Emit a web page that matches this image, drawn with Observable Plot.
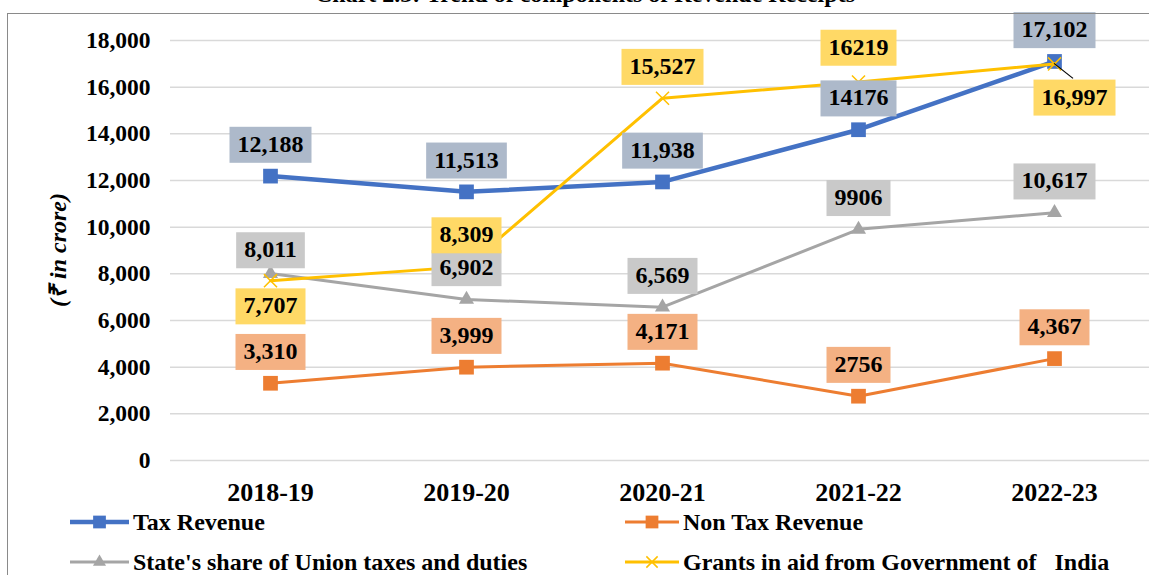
<!DOCTYPE html>
<html>
<head>
<meta charset="utf-8">
<script src="https://cdn.jsdelivr.net/npm/d3@7"></script>
<script src="https://cdn.jsdelivr.net/npm/@observablehq/plot@0.6"></script>
<style>
  html, body { margin: 0; padding: 0; background: #fff; overflow: hidden; }
  body { width: 1149px; height: 575px; position: relative; font-family: "Liberation Serif", "Times New Roman", serif; color: #000; }
  #title { position: absolute; left: 0; width: 1170px; top: -18px; text-align: center; font-size: 24px; line-height: 24px; font-weight: bold; white-space: nowrap; }
  #frame { position: absolute; left: 7px; top: 13px; width: 2000px; height: 2000px; border-left: 1.5px solid #8a8a8a; border-top: 1.5px solid #8a8a8a; pointer-events: none; }
  #wrap { position: absolute; left: 0; top: 0; }
  #ytitle { position: absolute; left: 56px; top: 250px; transform: translate(-50%, -50%) rotate(-90deg); font-size: 24px; font-weight: bold; font-style: italic; white-space: nowrap; }
  .leg { position: absolute; height: 24px; display: flex; align-items: center; font-size: 24px; font-weight: bold; white-space: pre; }
  .leg svg { display: block; }
</style>
</head>
<body>
<div id="wrap"></div>
<div id="title">Chart 2.3: Trend of components of Revenue Receipts</div>
<div id="ytitle">(₹ in crore)</div>
<div id="legend"></div>
<div id="frame"></div>
<script>
// ---------- data ----------
const years = ["2018-19", "2019-20", "2020-21", "2021-22", "2022-23"];
const seriesNames = [
  "Tax Revenue",
  "Non Tax Revenue",
  "State's share of Union taxes and duties",
  "Grants in aid from Government of   India"
];
const taxRevenue    = [12188, 11513, 11938, 14176, 17102];
const nonTaxRevenue = [3310, 3999, 4171, 2756, 4367];
const stateShare    = [8011, 6902, 6569, 9906, 10617];
const grantsInAid   = [7707, 8309, 15527, 16219, 16997];
const taxLabels     = ["12,188", "11,513", "11,938", "14176", "17,102"];
const nonTaxLabels  = ["3,310", "3,999", "4,171", "2756", "4,367"];
const stateLabels   = ["8,011", "6,902", "6,569", "9906", "10,617"];
const grantsLabels  = ["7,707", "8,309", "15,527", "16219", "16,997"];
const yTicks = [0, 2000, 4000, 6000, 8000, 10000, 12000, 14000, 16000, 18000];

// ---------- styling / layout ----------
const lineColors = ["#4472C4", "#ED7D31", "#A5A5A5", "#FFC000"];
const boxColors  = ["#ADB9CA", "#F4B183", "#C9C9C9", "#FFD966"];
const lineWidths = [4.5, 3, 3, 3];
const symbols    = ["square", "square", "triangle", "times"];
const symbolR    = [8.3, 8.3, 5.6, 6];
const defaultLabelOffset = {dx: 0, dy: -32};
// [seriesIndex, yearIndex, dx, dy, leader]
const labelOverrides = [
  [2, 0, 0, -24, false],
  [3, 0, 0, 25, false],
  [3, 3, 0, -35, false],
  [3, 4, 20, 33, true]
];

const values = [taxRevenue, nonTaxRevenue, stateShare, grantsInAid];
const labels = [taxLabels, nonTaxLabels, stateLabels, grantsLabels];

const rows = [];
seriesNames.forEach((s, i) => {
  years.forEach((yr, j) => {
    rows.push({si: i, series: s, year: yr, value: values[i][j], label: labels[i][j]});
  });
});

const font = '"Liberation Serif", "Times New Roman", serif';

const marks = [
  Plot.ruleY(yTicks, {stroke: "#d9d9d9", strokeWidth: 1.5}),
  Plot.axisY({ticks: yTicks, tickSize: 0, tickPadding: 20, tickFormat: d3.format(","), fontSize: 23.5, fontWeight: "bold", label: null}),
  Plot.axisX({tickSize: 0, tickPadding: 22, fontSize: 26, fontWeight: "bold", label: null})
];

seriesNames.forEach((s, i) => {
  const d = rows.filter(r => r.si === i);
  marks.push(Plot.line(d, {x: "year", y: "value", stroke: lineColors[i], strokeWidth: lineWidths[i], curve: "linear"}));
  if (symbols[i] === "times") {
    marks.push(Plot.dot(d, {x: "year", y: "value", symbol: symbols[i], r: symbolR[i], stroke: lineColors[i], strokeWidth: 1.5}));
  } else {
    marks.push(Plot.dot(d, {x: "year", y: "value", symbol: symbols[i], r: symbolR[i], fill: lineColors[i], stroke: "none"}));
  }
});

const leaders = [];
rows.forEach(r => {
  const j = years.indexOf(r.year);
  const o = labelOverrides.find(v => v[0] === r.si && v[1] === j);
  const dx = o ? o[2] : defaultLabelOffset.dx;
  const dy = o ? o[3] : defaultLabelOffset.dy;
  if (o && o[4]) leaders.push({row: r, dx, dy});
  marks.push(Plot.text([r], {x: "year", y: "value", text: "label", dx, dy, fontSize: 24, fontWeight: "bold", fill: "#000", ariaDescription: "lbl-" + r.si}));
});

const chart = Plot.plot({
  width: 1149,
  height: 510,
  marginTop: 40,
  marginBottom: 50,
  marginLeft: 170,
  marginRight: 0,
  style: {fontFamily: font, background: "transparent", color: "#000", overflow: "visible"},
  x: {type: "point", domain: years, range: [170, 1153], padding: 0.5},
  y: {domain: [0, 18000]},
  marks
});

document.getElementById("wrap").appendChild(chart);

// label boxes behind each value label
const ns = "http://www.w3.org/2000/svg";
seriesNames.forEach((s, i) => {
  chart.querySelectorAll(`g[aria-description="lbl-${i}"] text`).forEach(t => {
    const bb = t.getBBox();
    const rect = document.createElementNS(ns, "rect");
    const cx = bb.x + bb.width / 2;
    const cy = bb.y + bb.height / 2 + 1;
    const w = bb.width + 16, h = 36;
    rect.setAttribute("x", cx - w / 2);
    rect.setAttribute("y", cy - h / 2);
    rect.setAttribute("width", w);
    rect.setAttribute("height", h);
    rect.setAttribute("fill", boxColors[i]);
    const tr = t.getAttribute("transform");
    if (tr) rect.setAttribute("transform", tr);
    t.parentNode.insertBefore(rect, t);
  });
});

// leader lines
const xs = chart.scale("x"), ys = chart.scale("y");
leaders.forEach(l => {
  const px = xs.apply(l.row.year), py = ys.apply(l.row.value);
  const line = document.createElementNS(ns, "line");
  line.setAttribute("x1", px);
  line.setAttribute("y1", py);
  line.setAttribute("x2", px + l.dx - 1);
  line.setAttribute("y2", py + l.dy - 18);
  line.setAttribute("stroke", "#000");
  line.setAttribute("stroke-width", 1.2);
  chart.appendChild(line);
});

// legend
const legendPos = [
  {mx: 70, tx: 133, y: 522},
  {mx: 625, tx: 683, y: 522},
  {mx: 70, tx: 133, y: 562},
  {mx: 625, tx: 683, y: 562}
];
const legend = document.getElementById("legend");
seriesNames.forEach((s, i) => {
  const p = legendPos[i];
  const m = document.createElement("div");
  m.className = "leg";
  m.style.left = p.mx + "px";
  m.style.top = (p.y - 12) + "px";
  const sym = d3.symbol(d3["symbol" + symbols[i][0].toUpperCase() + symbols[i].slice(1)], Math.PI * symbolR[i] * symbolR[i] * 0.75)();
  const w = p.tx - p.mx - 4;
  const symStyle = symbols[i] === "times"
    ? `fill="none" stroke="${lineColors[i]}" stroke-width="1.5"`
    : `fill="${lineColors[i]}"`;
  m.innerHTML = `<svg width="${w}" height="24"><line x1="0" x2="${w}" y1="12" y2="12" stroke="${lineColors[i]}" stroke-width="${lineWidths[i]}" stroke-linecap="round"/><path d="${sym}" transform="translate(${w / 2},12)" ${symStyle}/></svg>`;
  legend.appendChild(m);
  const t = document.createElement("div");
  t.className = "leg";
  t.style.left = p.tx + "px";
  t.style.top = (p.y - 12) + "px";
  t.textContent = s;
  legend.appendChild(t);
});
</script>
</body>
</html>
